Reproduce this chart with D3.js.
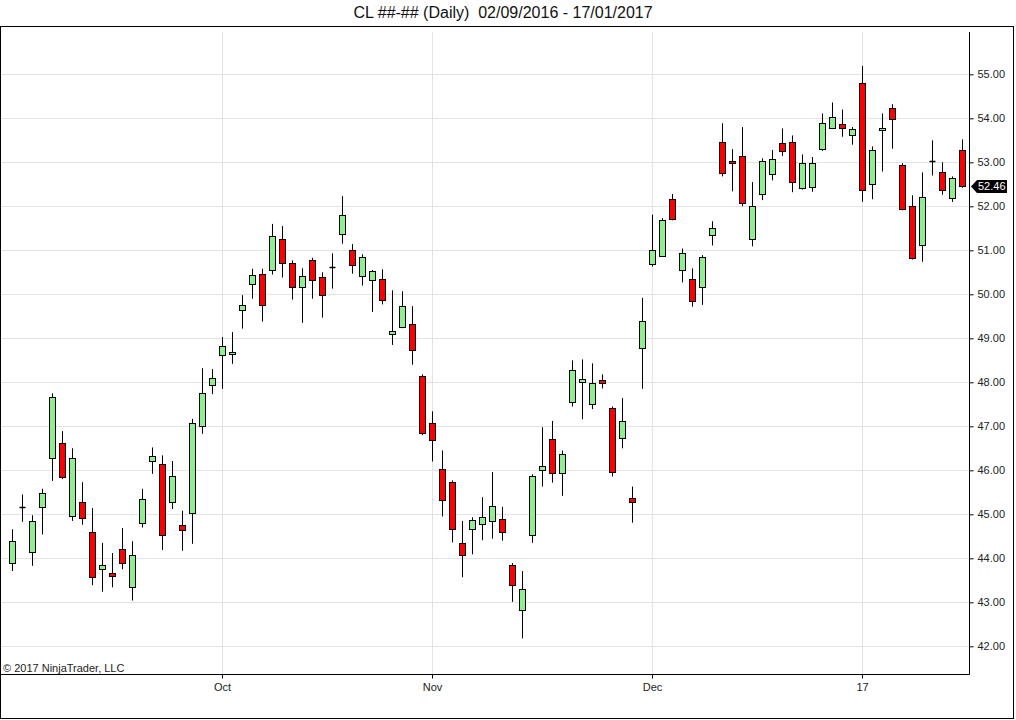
<!DOCTYPE html>
<html>
<head>
<meta charset="utf-8">
<script src="https://cdn.jsdelivr.net/npm/d3@7"></script>
<style>
  body { margin: 0; background: #fff; }
  svg { display: block; font-family: "Liberation Sans", Arial, sans-serif; }
  .axis text { font-size: 11px; fill: #222; }
  .axis line { stroke: #000; }
</style>
</head>
<body>
<div id="chart"></div>
<script>
// Daily bars, 02/09/2016 .. 17/01/2017
const opens = [43.89, 45.17, 44.13, 45.16, 46.27, 46.62, 44.95, 45.27, 44.59, 43.74,
  43.67, 44.20, 43.34, 44.79, 46.20, 46.14, 45.29, 44.76, 45.02, 47.00,
  47.93, 48.61, 48.64, 49.64, 50.23, 50.45, 50.55, 51.25, 50.70, 50.16,
  50.77, 50.39, 50.62, 51.36, 51.00, 50.41, 50.32, 50.34, 49.09, 49.25,
  49.32, 48.14, 47.07, 46.02, 45.73, 44.34, 44.66, 44.77, 44.84, 44.89,
  43.84, 42.82, 44.52, 46.02, 46.70, 45.93, 47.55, 48.00, 47.50, 48.05,
  47.41, 46.73, 45.36, 48.77, 50.68, 50.86, 52.16, 50.55, 50.34, 50.16,
  51.34, 53.45, 53.02, 53.14, 51.25, 52.27, 52.73, 53.43, 53.45, 52.41,
  52.43, 53.31, 53.77, 53.86, 53.61, 54.80, 52.50, 53.73, 54.23, 52.93,
  52.00, 51.11, 53.02, 52.77, 52.18, 53.27];
const highs = [44.66, 45.45, 44.98, 45.58, 47.75, 46.89, 46.50, 45.73, 45.14, 44.35,
  44.12, 44.69, 44.39, 45.58, 46.52, 46.34, 46.21, 45.08, 47.17, 48.32,
  48.30, 49.03, 49.14, 49.98, 50.58, 50.58, 51.60, 51.55, 50.77, 50.59,
  50.83, 50.50, 50.93, 52.23, 51.14, 50.91, 50.55, 50.57, 50.09, 50.07,
  49.73, 48.18, 47.34, 46.45, 45.77, 44.85, 44.93, 45.39, 45.96, 45.17,
  43.89, 43.71, 45.91, 46.98, 47.12, 46.45, 48.50, 48.52, 48.43, 48.18,
  47.45, 47.64, 45.63, 49.92, 51.81, 51.73, 52.28, 51.04, 50.59, 50.89,
  51.66, 53.89, 53.30, 53.80, 52.55, 53.09, 53.28, 53.77, 53.61, 53.18,
  53.12, 54.11, 54.36, 54.20, 53.80, 55.19, 53.36, 54.11, 54.32, 52.98,
  52.25, 52.77, 53.50, 53.00, 52.68, 53.52];
const lows = [43.71, 44.83, 43.83, 44.54, 45.76, 45.80, 44.85, 44.76, 43.39, 43.24,
  43.34, 43.75, 43.04, 44.70, 45.92, 44.19, 45.12, 44.17, 44.33, 46.83,
  47.73, 47.85, 48.42, 49.22, 49.90, 49.38, 50.45, 50.38, 49.88, 49.35,
  49.90, 49.47, 50.13, 51.15, 50.47, 50.20, 49.60, 49.77, 48.85, 49.23,
  48.40, 46.80, 46.20, 44.95, 44.36, 43.57, 44.09, 44.41, 44.45, 44.40,
  43.01, 42.18, 44.35, 45.63, 45.72, 45.42, 47.45, 47.16, 47.39, 47.86,
  45.86, 46.50, 44.81, 47.85, 50.63, 50.86, 51.68, 50.27, 49.72, 49.76,
  51.11, 52.68, 52.34, 52.00, 51.09, 52.14, 52.59, 53.14, 52.32, 52.38,
  52.33, 53.26, 53.77, 53.58, 53.40, 52.10, 52.16, 52.79, 53.31, 51.91,
  50.79, 50.74, 52.70, 52.26, 52.10, 52.42];
const closes = [44.39, 45.17, 44.84, 45.48, 47.66, 45.85, 46.27, 44.91, 43.57, 43.84,
  43.61, 43.89, 44.07, 45.34, 46.32, 44.52, 45.87, 44.65, 47.07, 47.76,
  48.09, 48.82, 48.68, 49.75, 50.43, 49.75, 51.32, 50.70, 50.16, 50.41,
  50.32, 49.98, 50.62, 51.80, 50.66, 50.84, 50.52, 49.86, 49.16, 49.73,
  48.73, 46.84, 46.68, 45.32, 44.66, 44.07, 44.86, 44.93, 45.19, 44.60,
  43.38, 43.30, 45.87, 46.10, 45.93, 46.36, 48.27, 48.07, 47.98, 47.98,
  45.95, 47.11, 45.27, 49.39, 51.00, 51.68, 51.70, 50.93, 49.84, 50.84,
  51.50, 52.75, 52.98, 52.07, 52.00, 53.02, 53.07, 53.25, 52.55, 52.98,
  52.98, 53.89, 54.02, 53.77, 53.75, 52.36, 53.27, 53.77, 53.97, 51.93,
  50.81, 52.20, 53.02, 52.36, 52.64, 52.46];

// month labels sit on the bar index of the first session of the month
const tickIndex = [21, 42, 64, 85];
const tickLabels = ["Oct", "Nov", "Dec", "17"];
const priceTicks = d3.range(42, 56);

const W = 1016, H = 720;
const plot = {left: 1, right: 969, top: 32, bottom: 674};

const svg = d3.select("#chart").append("svg")
    .attr("width", W)
    .attr("height", H);

const x = d3.scaleLinear()
    .domain([0, opens.length - 1])
    .range([12.3, 962.3]);

const y = d3.scaleLinear()
    .domain([42, 55])
    .range([646.3, 74.3]);

const px = i => Math.round(x(i)) + 0.5;

// Title
svg.append("text")
    .attr("x", 503)
    .attr("y", 18)
    .attr("text-anchor", "middle")
    .style("font-size", "16px")
    .style("white-space", "pre")
    .style("fill", "#111")
    .text("CL ##-## (Daily)  02/09/2016 - 17/01/2017");

// Grid
svg.append("g")
  .selectAll("line")
  .data(priceTicks)
  .join("line")
    .attr("x1", plot.left)
    .attr("x2", plot.right)
    .attr("y1", d => Math.round(y(d)) + 0.5)
    .attr("y2", d => Math.round(y(d)) + 0.5)
    .attr("stroke", "#e3e3e3");

svg.append("g")
  .selectAll("line")
  .data(tickIndex)
  .join("line")
    .attr("x1", d => px(d))
    .attr("x2", d => px(d))
    .attr("y1", plot.top)
    .attr("y2", plot.bottom)
    .attr("stroke", "#e3e3e3");

// Candles
const bars = svg.append("g")
  .selectAll("g")
  .data(d3.range(opens.length))
  .join("g");

bars.append("line")
    .attr("x1", px)
    .attr("x2", px)
    .attr("y1", i => y(highs[i]))
    .attr("y2", i => y(lows[i]))
    .attr("stroke", "#000");

bars.filter(i => opens[i] !== closes[i])
  .append("rect")
    .attr("x", i => px(i) - 3)
    .attr("width", 6)
    .attr("y", i => Math.round(y(Math.max(opens[i], closes[i]))) + 0.5)
    .attr("height", i => Math.max(1, Math.round(Math.abs(y(opens[i]) - y(closes[i])))))
    .attr("fill", i => closes[i] > opens[i] ? "#90ee90" : "#ff0000")
    .attr("stroke", "#000");

bars.filter(i => opens[i] === closes[i])
  .append("line")
    .attr("x1", i => px(i) - 3)
    .attr("x2", i => px(i) + 3)
    .attr("y1", i => Math.round(y(opens[i])) + 0.5)
    .attr("y2", i => Math.round(y(opens[i])) + 0.5)
    .attr("stroke", "#000")
    .attr("stroke-width", 1.5);

// Axes
const yAxis = svg.append("g")
    .attr("class", "axis")
    .attr("transform", `translate(${plot.right + 0.5},0)`)
    .call(d3.axisRight(y)
        .tickValues(priceTicks)
        .tickFormat(d3.format(".2f"))
        .tickSize(4)
        .tickPadding(4));
yAxis.select(".domain").remove();

const xAxis = svg.append("g")
    .attr("class", "axis")
    .attr("transform", `translate(0,${plot.bottom + 0.5})`)
    .call(d3.axisBottom(x)
        .tickValues(tickIndex)
        .tickFormat((d, i) => tickLabels[i])
        .tickSize(4)
        .tickPadding(5));
xAxis.select(".domain").remove();
xAxis.selectAll(".tick").attr("transform", d => `translate(${px(d)},0)`);

svg.append("line")
    .attr("x1", plot.right + 0.5).attr("x2", plot.right + 0.5)
    .attr("y1", plot.top).attr("y2", plot.bottom + 0.5)
    .attr("stroke", "#000");
svg.append("line")
    .attr("x1", plot.left).attr("x2", plot.right + 0.5)
    .attr("y1", plot.bottom + 0.5).attr("y2", plot.bottom + 0.5)
    .attr("stroke", "#000");

// Outer frame
svg.append("rect")
    .attr("x", 0.5).attr("y", 26.5)
    .attr("width", 1013).attr("height", 692)
    .attr("fill", "none")
    .attr("stroke", "#000");

// Last price marker
const last = closes[closes.length - 1];
const ly = Math.round(y(last)) + 0.5;
svg.append("path")
    .attr("d", `M${plot.right + 2},${ly} L${plot.right + 8},${ly - 6.5} L1007,${ly - 6.5} L1007,${ly + 6.5} L${plot.right + 8},${ly + 6.5} Z`)
    .attr("fill", "#000");
svg.append("text")
    .attr("x", 978)
    .attr("y", ly)
    .attr("dy", "0.35em")
    .style("font-size", "11px")
    .style("fill", "#fff")
    .text(last.toFixed(2));

// Copyright
svg.append("text")
    .attr("x", 3)
    .attr("y", 672)
    .style("font-size", "11px")
    .style("fill", "#222")
    .text("\u00a9 2017 NinjaTrader, LLC");
</script>
</body>
</html>
